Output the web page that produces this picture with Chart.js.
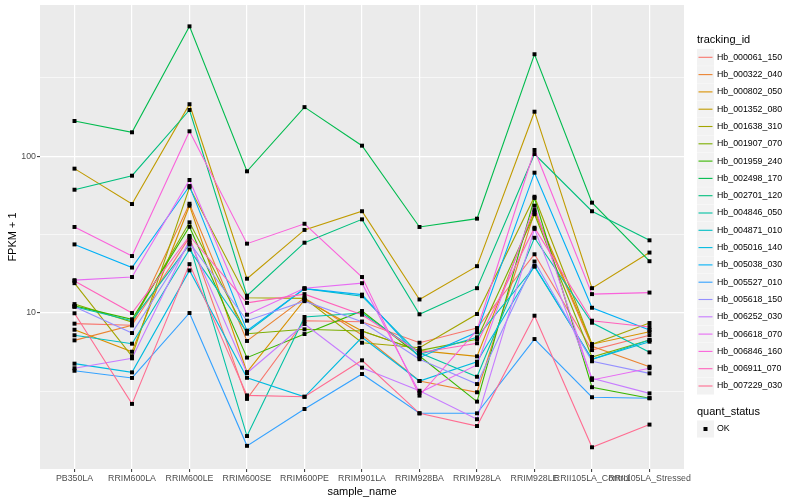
<!DOCTYPE html>
<html><head><meta charset="utf-8">
<script src="https://cdn.jsdelivr.net/npm/chart.js@4.4.1/dist/chart.umd.min.js"></script>
<style>html,body{margin:0;padding:0;background:#fff}canvas{display:block}</style>
</head><body>
<canvas id="c" width="800" height="500" style="width:800px;height:500px"></canvas>
<script>
const categories = ['PB350LA','RRIM600LA','RRIM600LE','RRIM600SE','RRIM600PE','RRIM901LA','RRIM928BA','RRIM928LA','RRIM928LE','RRII105LA_Control','RRII105LA_Stressed'];
const trackingIds = ['Hb_000061_150','Hb_000322_040','Hb_000802_050','Hb_001352_080','Hb_001638_310','Hb_001907_070','Hb_001959_240','Hb_002498_170','Hb_002701_120','Hb_004846_050','Hb_004871_010','Hb_005016_140','Hb_005038_030','Hb_005527_010','Hb_005618_150','Hb_006252_030','Hb_006618_070','Hb_006846_160','Hb_006911_070','Hb_007229_030'];
const seriesColors = ['#F8766D','#EA8331','#D89000','#C09B00','#A3A500','#7CAE00','#39B600','#00BB4E','#00BF7D','#00C1A3','#00BFC4','#00BAE0','#00B0F6','#35A2FF','#9590FF','#C77CFF','#E76BF3','#FA62DB','#FF62BC','#FF6C91'];
const yMajorTicks = [10, 100];
const yMinorTicks = [3.1623, 31.623, 316.23];

const s000061_150 = [8.55, 8.35, 30.4, 2.83, 8.93, 8.80, 6.46, 8.02, 23.7, 5.80, 7.21];
const s000322_040 = [6.69, 8.35, 49.8, 6.63, 12.5, 7.24, 3.68, 3.12, 43.9, 6.13, 4.54];
const s000802_050 = [7.82, 5.66, 48.4, 4.20, 12.1, 7.68, 5.75, 5.29, 45.4, 6.32, 7.60];
const s001352_080 = [83.4, 49.6, 215, 16.55, 33.9, 44.6, 12.2, 19.9, 192.6, 14.4, 24.3];
const s001638_310 = [15.5, 5.29, 63.4, 12.5, 12.4, 6.46, 6.00, 9.85, 55.2, 6.32, 8.63];
const s001907_070 = [11.4, 8.76, 37.9, 7.38, 7.87, 7.68, 5.75, 6.80, 42.7, 5.24, 6.72];
const s001959_240 = [11.1, 9.12, 35.5, 5.19, 7.34, 10.3, 5.32, 2.72, 54.2, 3.36, 2.86];
const s002498_170 = [168, 142.3, 675, 80.2, 206, 116.9, 35.4, 40.0, 448, 50.6, 21.4];
const s002701_120 = [61.2, 75.2, 197.5, 12.9, 28.1, 39.6, 9.81, 14.4, 103.4, 44.6, 29.1];
const s004846_050 = [10.97, 8.93, 27.4, 1.64, 9.43, 10.0, 5.58, 3.92, 30.2, 8.67, 5.61];
const s004871_010 = [7.21, 6.37, 25.4, 7.53, 14.3, 12.8, 5.45, 7.00, 19.75, 5.07, 6.72];
const s005016_140 = [4.75, 4.18, 18.7, 3.86, 2.92, 7.00, 3.68, 4.89, 19.95, 5.07, 6.56];
const s005038_030 = [27.4, 19.5, 64.6, 7.71, 14.3, 13.1, 5.19, 7.53, 78.6, 10.8, 7.79];
const s005527_010 = [4.28, 3.85, 10.0, 1.42, 2.44, 4.08, 2.29, 2.29, 6.82, 2.90, 2.86];
const s005618_150 = [10.97, 7.45, 28.1, 8.93, 11.9, 8.80, 5.07, 3.52, 21.3, 4.92, 4.12];
const s006252_030 = [4.44, 5.14, 29.2, 4.14, 8.51, 4.48, 3.19, 2.10, 34.4, 3.83, 3.07];
const s006618_070 = [16.2, 16.97, 70.6, 9.75, 14.4, 15.5, 3.10, 4.66, 48.4, 3.74, 4.44];
const s006846_160 = [35.4, 23.1, 144.4, 27.7, 37.1, 16.97, 2.97, 7.79, 109.7, 13.2, 13.5];
const s006911_070 = [16.0, 10.0, 31.0, 11.6, 13.2, 9.75, 5.58, 6.41, 35.0, 8.93, 8.14];
const s007229_030 = [9.96, 2.63, 20.5, 2.98, 2.92, 4.99, 2.29, 1.90, 9.61, 1.39, 1.94];

const seriesValues = [s000061_150, s000322_040, s000802_050, s001352_080, s001638_310, s001907_070, s001959_240, s002498_170, s002701_120, s004846_050, s004871_010, s005016_140, s005038_030, s005527_010, s005618_150, s006252_030, s006618_070, s006846_160, s006911_070, s007229_030];

const FAMILY = '"Liberation Sans", Arial, Helvetica, sans-serif';

const datasets = [];
seriesValues.forEach((vals, i) => {
  datasets.push({
    label: trackingIds[i],
    data: vals.map((v, j) => ({x: j, y: v})),
    borderColor: seriesColors[i],
    backgroundColor: seriesColors[i],
    borderWidth: 1.1,
    pointRadius: 0,
    fill: false,
    tension: 0,
    order: 100 - i
  });
});
seriesValues.forEach((vals, i) => {
  datasets.push({
    label: trackingIds[i] + ' (OK)',
    data: vals.map((v, j) => ({x: j, y: v})),
    showLine: false,
    pointStyle: 'rect',
    pointRadius: 2.8,
    pointBackgroundColor: '#000000',
    pointBorderColor: '#000000',
    pointBorderWidth: 0,
    order: 0
  });
});

const panelBg = {
  id: 'panelBg',
  beforeDraw(chart) {
    const {ctx, chartArea: a} = chart;
    ctx.save();
    ctx.fillStyle = '#EBEBEB';
    ctx.fillRect(a.left, a.top, a.right - a.left, a.bottom - a.top);
    ctx.restore();
  }
};

const ggLegend = {
  id: 'ggLegend',
  afterDraw(chart) {
    const ctx = chart.ctx;
    ctx.save();
    ctx.textBaseline = 'middle';
    ctx.textAlign = 'left';
    ctx.fillStyle = '#000';
    ctx.font = '11px ' + FAMILY;
    ctx.fillText('tracking_id', 697, 40);
    ctx.font = '8.8px ' + FAMILY;
    trackingIds.forEach((id, i) => {
      const cy = 57.3 + i * 17.3;
      ctx.fillStyle = '#F2F2F2';
      ctx.fillRect(697, cy - 8.5, 17, 17);
      ctx.strokeStyle = seriesColors[i];
      ctx.lineWidth = 1.1;
      ctx.beginPath();
      ctx.moveTo(698.5, cy);
      ctx.lineTo(712.5, cy);
      ctx.stroke();
      ctx.fillStyle = '#000';
      ctx.fillText(id, 717, cy);
    });
    ctx.font = '11px ' + FAMILY;
    ctx.fillText('quant_status', 697, 412);
    ctx.fillStyle = '#F2F2F2';
    ctx.fillRect(697, 420.5, 17, 17);
    ctx.fillStyle = '#000';
    ctx.fillRect(703.5, 427, 4, 4);
    ctx.font = '8.8px ' + FAMILY;
    ctx.fillText('OK', 717, 429);
    ctx.restore();
  }
};

const isMajor = v => yMajorTicks.indexOf(v) >= 0;

new Chart(document.getElementById('c'), {
  type: 'line',
  data: { datasets },
  plugins: [panelBg, ggLegend],
  options: {
    responsive: false,
    animation: false,
    devicePixelRatio: 1,
    layout: { padding: { left: 0, top: 5, right: 116, bottom: 0 } },
    plugins: { legend: { display: false }, tooltip: { enabled: false } },
    scales: {
      x: {
        type: 'linear',
        min: -0.6,
        max: 10.6,
        afterBuildTicks: s => { s.ticks = categories.map((c, i) => ({ value: i })); },
        afterFit: s => { s.height = 31; s.paddingLeft = 0; s.paddingRight = 0; },
        ticks: {
          callback: v => (categories[v] !== undefined ? categories[v] : ''),
          autoSkip: false, maxRotation: 0, minRotation: 0, padding: 1,
          color: '#4D4D4D', font: { size: 8.8, family: FAMILY }
        },
        grid: { color: '#FFFFFF', lineWidth: 1.2, drawTicks: true, tickLength: 3, tickColor: '#333333', tickWidth: 1 },
        border: { display: false },
        title: { display: true, text: 'sample_name', color: '#000', font: { size: 11, family: FAMILY }, padding: { top: 0, bottom: 1.5 } }
      },
      y: {
        type: 'logarithmic',
        min: 1.0104,
        max: 923.7,
        afterBuildTicks: s => {
          s.ticks = yMajorTicks.concat(yMinorTicks).sort((a, b) => a - b).map(v => ({ value: v }));
        },
        afterFit: s => { s.width = 40; s.paddingTop = 0; s.paddingBottom = 0; },
        ticks: {
          callback: v => (isMajor(v) ? String(v) : ''),
          padding: 1, color: '#4D4D4D', font: { size: 8.8, family: FAMILY }
        },
        grid: {
          color: '#FFFFFF',
          lineWidth: c => (c.tick && isMajor(c.tick.value)) ? 1.2 : 0.6,
          drawTicks: true, tickLength: 3,
          tickColor: c => (c.tick && isMajor(c.tick.value)) ? '#333333' : 'rgba(0,0,0,0)',
          tickWidth: 1
        },
        border: { display: false },
        title: { display: true, text: 'FPKM + 1', color: '#000', font: { size: 11, family: FAMILY }, padding: { top: 6, bottom: 0 } }
      }
    }
  }
});
</script>
</body></html>
